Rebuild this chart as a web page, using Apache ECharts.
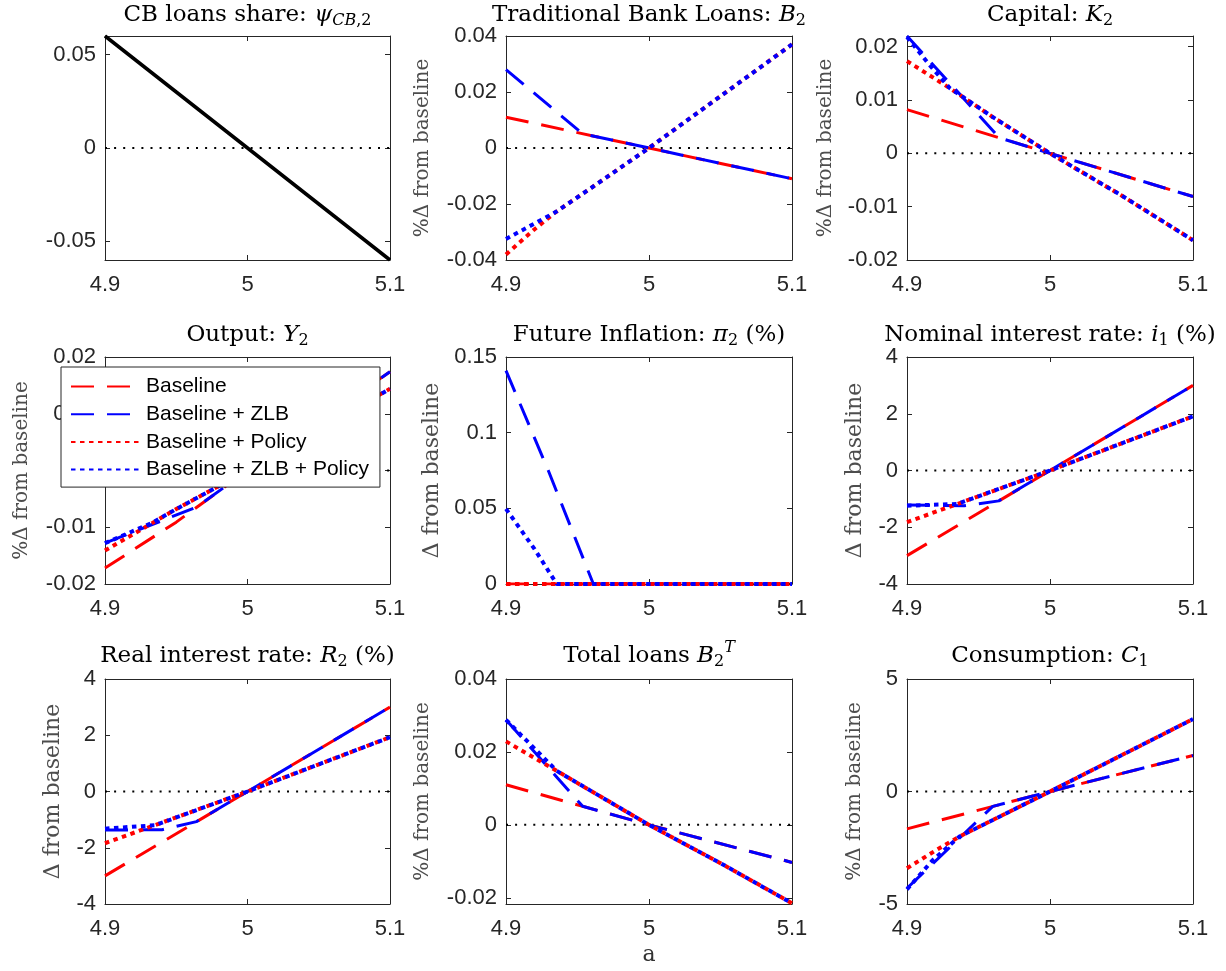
<!DOCTYPE html>
<html>
<head>
<meta charset="utf-8">
<script src="https://cdn.jsdelivr.net/npm/echarts@6/dist/echarts.min.js"></script>
<style>
html,body{margin:0;padding:0;background:#fff;}
#main{width:1226px;height:971px;}
</style>
</head>
<body>
<div id="main"></div>
<script>
// ---------- data ----------
const X_TICKS = [4.9, 5, 5.1];
const SERIES_NAMES = ['Baseline', 'Baseline + ZLB', 'Baseline + Policy', 'Baseline + ZLB + Policy'];

// Panel 1: CB loans share
const psiCB = [[4.9, 0.06], [5, 0], [5.1, -0.06]];
const psiTicks = [-0.05, 0, 0.05];

// Panel 2: Traditional bank loans B2
const loansB_base = [[4.9, 0.011], [5, 0], [5.1, -0.011]];
const loansB_zlb = [[4.9, 0.028], [4.9536, 0.0051], [5, 0], [5.1, -0.011]];
const loansB_pol = [[4.9, -0.038], [4.92, -0.029], [4.935, -0.0228], [4.96, -0.0141], [5, 0], [5.05, 0.0185], [5.1, 0.037]];
const loansB_zlbpol = [[4.9, -0.0325], [4.935, -0.0228], [4.96, -0.0141], [5, 0], [5.05, 0.0185], [5.1, 0.037]];
const loansBTicks = [-0.04, -0.02, 0, 0.02, 0.04];

// Panel 3: Capital K2
const capK_base = [[4.9, 0.0082], [5, 0], [5.1, -0.0081]];
const capK_zlb = [[4.9, 0.022], [4.9646, 0.0029], [5, 0], [5.1, -0.0081]];
const capK_pol = [[4.9, 0.0173], [4.93, 0.0122], [4.96, 0.0068], [5, 0], [5.05, -0.0079], [5.1, -0.0163]];
const capK_zlbpol = [[4.9, 0.0218], [4.915, 0.0168], [4.93, 0.0122], [4.96, 0.0068], [5, 0], [5.05, -0.0079], [5.1, -0.0163]];
const capKTicks = [-0.02, -0.01, 0, 0.01, 0.02];

// Panel 4: Output Y2
const outY_base = [[4.9, -0.0172], [4.95, -0.0091], [5, 0], [5.05, 0.0087], [5.1, 0.0174]];
const outY_zlb = [[4.9, -0.0128], [4.9646, -0.0064], [5, 0], [5.05, 0.0087], [5.1, 0.0174]];
const outY_pol = [[4.9, -0.0141], [4.95, -0.0068], [5, 0], [5.1, 0.0144]];
const outY_zlbpol = [[4.9, -0.0128], [4.9333, -0.0092], [4.95, -0.0068], [5, 0], [5.1, 0.0144]];
const outYTicks = [-0.02, -0.01, 0, 0.01, 0.02];

// Panel 5: Future inflation pi2
const inflPi_base = [[4.9, 0], [5.1, 0]];
const inflPi_zlb = [[4.9, 0.141], [4.93, 0.074], [4.9611, 0], [5.1, 0]];
const inflPi_pol = [[4.9, 0], [5.1, 0]];
const inflPi_zlbpol = [[4.9, 0.0496], [4.92, 0.023], [4.9355, 0], [5.1, 0]];
const inflPiTicks = [0, 0.05, 0.1, 0.15];

// Panel 6: Nominal interest rate i1
const nomI_base = [[4.9, -3.0], [5, 0], [5.1, 3.0]];
const nomI_zlb = [[4.9, -1.22], [4.94, -1.24], [4.9642, -1.07], [5, 0], [5.1, 3.0]];
const nomI_pol = [[4.9, -1.82], [5, 0], [5.1, 1.91]];
const nomI_zlbpol = [[4.9, -1.24], [4.935, -1.18], [5, 0], [5.1, 1.91]];
const nomITicks = [-4, -2, 0, 2, 4];

// Panel 7: Real interest rate R2
const realR_base = [[4.9, -3.0], [5, 0], [5.1, 3.0]];
const realR_zlb = [[4.9, -1.37], [4.94, -1.36], [4.9642, -1.07], [5, 0], [5.1, 3.0]];
const realR_pol = [[4.9, -1.84], [5, 0], [5.1, 1.93]];
const realR_zlbpol = [[4.9, -1.32], [4.935, -1.2], [5, 0], [5.1, 1.93]];
const realRTicks = [-4, -2, 0, 2, 4];

// Panel 8: Total loans BT2
const totB_base = [[4.9, 0.011], [5, 0], [5.1, -0.0103]];
const totB_zlb = [[4.9, 0.0288], [4.9536, 0.0051], [5, 0], [5.1, -0.0103]];
const totB_pol = [[4.9, 0.0229], [4.9355, 0.0148], [5, 0], [5.05, -0.0105], [5.1, -0.0215]];
const totB_zlbpol = [[4.9, 0.0288], [4.9355, 0.0148], [5, 0], [5.05, -0.0105], [5.1, -0.0215]];
const totBTicks = [-0.02, 0, 0.02, 0.04];

// Panel 9: Consumption C1
const consC_base = [[4.9, -1.66], [5, 0], [5.1, 1.6]];
const consC_zlb = [[4.9, -4.3], [4.96, -0.66], [5, 0], [5.1, 1.6]];
const consC_pol = [[4.9, -3.41], [4.92, -2.62], [4.9367, -2.0], [4.97, -0.95], [5, 0], [5.1, 3.22]];
const consC_zlbpol = [[4.9, -4.35], [4.918, -3.05], [4.9367, -2.0], [4.97, -0.95], [5, 0], [5.1, 3.22]];
const consCTicks = [-5, 0, 5];

// zero reference line
const zeroLine = [[4.9, 0], [5.1, 0]];

// ---------- panel definitions ----------
const panels = [
  {title: '{n|CB loans share: }{i|ψ}{si|CB}{s|,2}', ylabel: '', yMin: -0.06, yMax: 0.06, ticks: psiTicks, single: psiCB},
  {title: '{n|Traditional Bank Loans: }{i|B}{s|2}', ylabel: '%Δ from baseline', yMin: -0.04, yMax: 0.04, ticks: loansBTicks, lines: [loansB_base, loansB_zlb, loansB_pol, loansB_zlbpol]},
  {title: '{n|Capital: }{i|K}{s|2}', ylabel: '%Δ from baseline', yMin: -0.02, yMax: 0.022, ticks: capKTicks, lines: [capK_base, capK_zlb, capK_pol, capK_zlbpol]},
  {title: '{n|Output: }{i|Y}{s|2}', ylabel: '%Δ from baseline', yMin: -0.02, yMax: 0.02, ticks: outYTicks, lines: [outY_base, outY_zlb, outY_pol, outY_zlbpol]},
  {title: '{n|Future Inflation: }{i|π}{s|2}{n| (%)}', ylabel: 'Δ from baseline', yMin: 0, yMax: 0.15, ticks: inflPiTicks, lines: [inflPi_base, inflPi_zlb, inflPi_pol, inflPi_zlbpol]},
  {title: '{n|Nominal interest rate: }{i|i}{s|1}{n| (%)}', ylabel: 'Δ from baseline', yMin: -4, yMax: 4, ticks: nomITicks, lines: [nomI_base, nomI_zlb, nomI_pol, nomI_zlbpol]},
  {title: '{n|Real interest rate: }{i|R}{s|2}{n| (%)}', ylabel: 'Δ from baseline', yMin: -4, yMax: 4, ticks: realRTicks, lines: [realR_base, realR_zlb, realR_pol, realR_zlbpol]},
  {title: '{n|Total loans }{i|B}{s|2}{sup|T}', ylabel: '%Δ from baseline', yMin: -0.0217, yMax: 0.04, ticks: totBTicks, lines: [totB_base, totB_zlb, totB_pol, totB_zlbpol], xname: 'a'},
  {title: '{n|Consumption: }{i|C}{s|1}', ylabel: '%Δ from baseline', yMin: -5, yMax: 5, ticks: consCTicks, lines: [consC_base, consC_zlb, consC_pol, consC_zlbpol]}
];

// ---------- layout & styles ----------
const COL_LEFT = [105, 506, 907];
const COL_WIDTH = [285, 286, 286];
const ROW_TOP = [36, 357, 679];
const ROW_HEIGHT = [224, 227, 225];
const TITLE_Y = [15, 335, 656];
const NAME_GAP = [0, 73, 71, 73, 63, 41, 41, 73, 42];

const LINE_STYLES = [
  {color: '#ff0000', width: 3, type: [23, 13]},
  {color: '#0000ff', width: 3, type: [23, 13]},
  {color: '#ff0000', width: 4, type: [4.5, 4.5]},
  {color: '#0000ff', width: 4, type: [4.5, 4.5]}
];
const AX = '#262626';
const SANS = 'Liberation Sans';
const SERIF = 'DejaVu Serif';
const fmt = v => String(Math.round(v * 10000) / 10000);

const grids = [], xAxes = [], yAxes = [], series = [], graphics = [];

panels.forEach((p, k) => {
  const r = Math.floor(k / 3), c = k % 3;
  grids.push({left: COL_LEFT[c], top: ROW_TOP[r], width: COL_WIDTH[c], height: ROW_HEIGHT[r],
              containLabel: false, outerBoundsMode: 'none'});
  const xBase = {
    type: 'value', gridIndex: k, min: 4.9, max: 5.1,
    axisLine: {show: true, onZero: false, lineStyle: {color: AX, width: 1}},
    axisTick: {show: true, inside: true, length: 5, customValues: X_TICKS, lineStyle: {color: AX, width: 1}},
    splitLine: {show: false}
  };
  xAxes.push(Object.assign({}, xBase, {
    position: 'bottom',
    axisLabel: {show: true, customValues: X_TICKS, formatter: fmt, color: AX, fontSize: 22, fontFamily: SANS, margin: 14},
    name: p.xname || '', nameLocation: 'middle', nameGap: 40,
    nameTextStyle: {fontFamily: SERIF, fontSize: 22, color: '#333'}
  }));
  xAxes.push(Object.assign({}, xBase, {position: 'top', axisLabel: {show: false}}));
  const yBase = {
    type: 'value', gridIndex: k, min: p.yMin, max: p.yMax,
    axisLine: {show: true, onZero: false, lineStyle: {color: AX, width: 1}},
    axisTick: {show: true, inside: true, length: 5, customValues: p.ticks, lineStyle: {color: AX, width: 1}},
    splitLine: {show: false}
  };
  yAxes.push(Object.assign({}, yBase, {
    position: 'left',
    axisLabel: {show: true, customValues: p.ticks, formatter: fmt, color: AX, fontSize: 22, fontFamily: SANS, margin: 9},
    name: p.ylabel, nameLocation: 'middle', nameRotate: 90, nameGap: NAME_GAP[k],
    nameTextStyle: {fontFamily: SERIF, fontSize: p.ylabel.charAt(0) === '%' ? 20 : 22, color: '#4d4d4d'}
  }));
  yAxes.push(Object.assign({}, yBase, {position: 'right', axisLabel: {show: false}}));

  const xi = 2 * k, yi = 2 * k;
  series.push({
    type: 'line', name: 'zero', xAxisIndex: xi, yAxisIndex: yi, data: zeroLine,
    symbol: 'none', silent: true, z: 1, animation: false,
    lineStyle: {color: '#000', width: 2, type: [2, 7.1]}, emphasis: {disabled: true}
  });
  if (p.single) {
    series.push({
      type: 'line', name: 'psi', xAxisIndex: xi, yAxisIndex: yi, data: p.single,
      symbol: 'none', animation: false, z: 3,
      lineStyle: {color: '#000', width: 3.5}, emphasis: {disabled: true}
    });
  } else {
    p.lines.forEach((d, j) => {
      series.push({
        type: 'line', name: SERIES_NAMES[j], xAxisIndex: xi, yAxisIndex: yi, data: d,
        symbol: 'none', animation: false, z: 3 + j, color: LINE_STYLES[j].color,
        lineStyle: {color: LINE_STYLES[j].color, width: LINE_STYLES[j].width, type: LINE_STYLES[j].type, cap: 'butt'},
        emphasis: {disabled: true}
      });
    });
  }
  graphics.push({
    type: 'text', x: COL_LEFT[c] + COL_WIDTH[c] / 2, y: TITLE_Y[r], silent: true,
    style: {
      text: p.title, align: 'center', verticalAlign: 'middle',
      rich: {
        n: {fontFamily: SERIF, fontSize: 23, fill: '#000'},
        i: {fontFamily: SERIF, fontStyle: 'italic', fontSize: 23, fill: '#000'},
        si: {fontFamily: SERIF, fontStyle: 'italic', fontSize: 16, fill: '#000', padding: [12, 0, 0, 0]},
        s: {fontFamily: SERIF, fontSize: 16, fill: '#000', padding: [12, 0, 0, 0]},
        sup: {fontFamily: SERIF, fontStyle: 'italic', fontSize: 16, fill: '#000', padding: [0, 0, 16, 0]}
      }
    }
  });
});

const chart = echarts.init(document.getElementById('main'), null, {renderer: 'canvas'});
chart.setOption({
  backgroundColor: '#fff',
  animation: false,
  grid: grids,
  xAxis: xAxes,
  yAxis: yAxes,
  series: series,
  graphic: graphics,
  legend: {
    data: SERIES_NAMES, orient: 'vertical', left: 61, top: 367,
    itemWidth: 70, itemHeight: 1, itemGap: 6.7,
    itemStyle: {opacity: 0},
    padding: [9, 11, 7, 9], borderColor: AX, borderWidth: 1, backgroundColor: '#fff',
    selectedMode: false, z: 10,
    textStyle: {fontSize: 21, fontFamily: SANS, color: '#000', lineHeight: 20}
  }
});
</script>
</body>
</html>
